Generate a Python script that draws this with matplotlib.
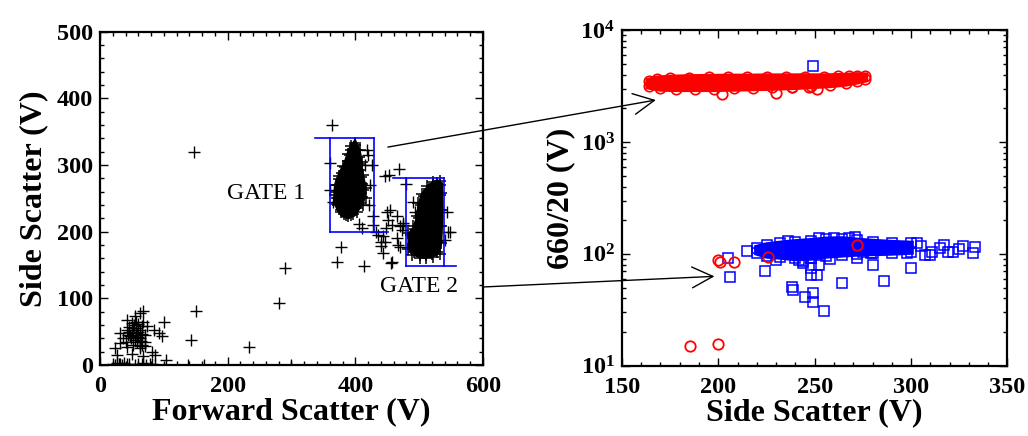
import numpy as np
import matplotlib
matplotlib.use('Agg')
import matplotlib.pyplot as plt
from matplotlib.patches import ConnectionPatch, Polygon
from matplotlib.ticker import MultipleLocator, FixedLocator, LogLocator, NullFormatter

plt.rcParams['font.family'] = ['Liberation Serif', 'DejaVu Serif']
plt.rcParams['mathtext.fontset'] = 'custom'
plt.rcParams['mathtext.rm'] = 'Liberation Serif:bold'
plt.rcParams['mathtext.bf'] = 'Liberation Serif:bold'
plt.rcParams['mathtext.it'] = 'Liberation Serif:bold:italic'

# ---- left panel: forward vs side scatter ----
# dense core of gate 1 population (outline of the solid blob)
G1_CORE_X = [399, 403, 405, 406, 407, 409, 411, 412, 411, 408, 402, 396, 389, 382, 377,
             373, 371, 371, 372, 375, 379, 384, 388, 391, 394]
G1_CORE_Y = [330, 322, 312, 302, 292, 282, 272, 262, 252, 243, 235, 227, 224, 226, 232,
             240, 250, 260, 270, 279, 288, 297, 306, 315, 323]
# fuzzy rim of the gate 1 blob
G1_RIM_X = [400, 407, 410, 412, 416, 417, 412, 403, 394, 386, 377, 371, 368, 369, 374,
            381, 388, 393]
G1_RIM_Y = [333, 323, 304, 285, 266, 251, 240, 230, 225, 225, 230, 241, 255, 270, 284,
            299, 316, 328]
# dense core of gate 2 population
G2_CORE_X = [528, 532, 532, 533, 532, 531, 528, 520, 511, 502, 492, 487, 487, 494, 500,
             503, 507, 515, 522]
G2_CORE_Y = [273, 270, 255, 233, 208, 185, 170, 166, 165, 165, 169, 176, 195, 204, 220,
             240, 254, 264, 270]
G2_RIM_X = [522, 532, 535, 536, 535, 534, 532, 522, 511, 501, 489, 483, 483, 490, 496,
            499, 504, 513]
G2_RIM_Y = [275, 276, 258, 233, 208, 183, 167, 162, 161, 161, 165, 174, 198, 208, 223,
            243, 257, 268]
# individual events
FSC = [364, 147, 290, 280, 150, 143, 234, 413, 372, 378, 360, 360, 365, 418, 420, 426,
       423, 422, 410, 428, 428, 447, 453, 469, 449, 454, 452, 457, 448, 465, 470, 473,
       436, 444, 433, 465, 441, 446, 467, 440, 444, 456, 458, 475, 480, 491, 493, 475,
       470, 543, 546, 540, 548, 405, 415,
       67, 63, 55, 43, 50, 57, 52, 42, 31, 60, 73, 84, 93, 97, 101, 36, 47, 55, 63, 70,
       65, 52, 42, 31, 24, 26, 82, 86, 68, 104, 50, 58, 45, 62,
       48, 52, 56, 60, 62, 66, 58, 64, 70, 54, 60, 66, 50, 44, 40, 70, 62, 56, 68, 46,
       20, 23, 26, 29, 32, 35, 38, 42, 45, 55, 60, 65, 68, 72, 78, 82, 86, 138, 163, 299]
SSC = [360, 319, 145, 93, 81, 38, 27, 149, 155, 177, 303, 263, 245, 323, 315, 300,
       270, 240, 205, 223, 210, 283, 285, 294, 230, 233, 218, 210, 205, 223, 208, 203,
       195, 193, 200, 190, 185, 185, 180, 178, 168, 153, 155, 213, 272, 245, 230, 210,
       177, 230, 200, 188, 200, 212, 300,
       81, 78, 74, 67, 63, 64, 55, 53, 48, 50, 58, 53, 48, 44, 65, 40, 43, 38, 40, 35,
       30, 30, 27, 33, 25, 15, 20, 15, 13, 8, 17, 45, 50, 25,
       40, 45, 48, 42, 52, 46, 35, 36, 45, 60, 62, 58, 50, 45, 35, 28, 28, 55, 65, 57,
       2, 0, 3, 1, 2, 0, 3, 1, 2, 0, 2, 1, 3, 0, 2, 1, 0, 0, 0, 0]

GATE1_X = [[337, 429], [360, 360], [429, 429], [360, 451]]
GATE1_Y = [[340, 340], [340, 200], [340, 200], [200, 200]]
GATE2_X = [[459, 539], [479, 479], [539, 539], [479, 557]]
GATE2_Y = [[280, 280], [280, 149], [280, 149], [149, 149]]

# ---- right panel: side scatter vs 660/20 ----
RED_CORE_X = [164, 168, 175, 185, 195, 205, 215, 225, 235, 245, 255, 262, 268, 272, 276,
              276, 272, 266, 258, 248, 238, 228, 218, 208, 198, 188, 178, 170, 164]
RED_CORE_Y = [3500, 3650, 3720, 3760, 3780, 3800, 3800, 3820, 3820, 3830, 3820, 3850, 3880,
              3920, 3900, 3650, 3500, 3350, 3250, 3180, 3120, 3080, 3050, 3020, 3000, 3000,
              3000, 3020, 3150]
RED_X = [202, 230, 238, 251, 247, 185.5, 200, 199.8, 201, 208, 226, 272]
RED_Y = [2685, 2757, 3076, 2954, 3076, 14.9, 15.7, 88.4, 84.3, 84.3, 94.6, 120]

BLUE_CORE_X = [220, 225, 232, 240, 248, 256, 264, 272, 280, 290, 300,
               300, 290, 280, 272, 264, 256, 248, 240, 232, 225, 220]
BLUE_CORE_Y = [114, 120, 124, 128, 131, 135, 136, 132, 129, 126, 124,
               104, 102, 101, 100, 98, 96, 92, 91, 94, 96, 102]
BLUE_X = [249, 205, 206, 215, 224, 238, 239, 245, 248, 248, 251, 252, 249, 249, 255, 264,
          280, 286, 300, 272, 298, 307, 310, 322, 327, 332, 333, 303, 317, 319, 311, 294,
          288, 280, 271, 279, 275, 242, 244, 248, 230, 315, 325, 305, 236, 252, 260, 268,
          244, 258]
BLUE_Y = [4800, 91.6, 62.7, 107, 70.5, 50.4, 47.1, 41.6, 74.5, 64.9, 64.9, 79.8, 44.6,
          37.5, 31.2, 54.8, 79.8, 57.8, 75.5, 91.6, 101, 98, 98, 103.5, 118.6, 101, 116,
          124.5, 120, 105, 105, 116, 112, 116, 143, 101, 105, 88.4, 82.7, 91.6, 88.4,
          112, 110, 118, 130, 138, 140, 138, 86, 90]

fig = plt.figure(figsize=(10.28, 4.36), dpi=100)
ax1 = fig.add_axes([0.0973, 0.163, 0.3725, 0.764])
ax2 = fig.add_axes([0.605, 0.161, 0.375, 0.770])

blue = '#0000ff'
red = '#ff0000'

# left panel
for cx, cy, rx, ry in [(G1_CORE_X, G1_CORE_Y, G1_RIM_X, G1_RIM_Y),
                       (G2_CORE_X, G2_CORE_Y, G2_RIM_X, G2_RIM_Y)]:
    ax1.add_patch(Polygon(np.column_stack([cx, cy]), closed=True,
                          facecolor='black', edgecolor='black', lw=5, zorder=2))
    ax1.plot(cx, cy, '+', color='black', ms=8, mew=1.1, zorder=3)
    ax1.plot(rx, ry, '+', color='black', ms=8, mew=1.1, zorder=3)
ax1.plot(FSC, SSC, '+', color='black', ms=8, mew=1.0, zorder=3)
for xs, ys in zip(GATE1_X + GATE2_X, GATE1_Y + GATE2_Y):
    ax1.plot(xs, ys, color=blue, lw=1.2, zorder=4)

ax1.text(260, 258, 'GATE 1', fontsize=17, ha='center', va='center')
ax1.text(500, 117, 'GATE 2', fontsize=17, ha='center', va='center')

ax1.set_xlim(0, 600)
ax1.set_ylim(0, 500)
ax1.xaxis.set_major_locator(MultipleLocator(200))
ax1.xaxis.set_minor_locator(MultipleLocator(20))
ax1.yaxis.set_major_locator(MultipleLocator(100))
ax1.yaxis.set_minor_locator(MultipleLocator(20))
ax1.set_xlabel('Forward Scatter (V)', fontsize=23, fontweight='bold', labelpad=0)
ax1.set_ylabel('Side Scatter (V)', fontsize=23, fontweight='bold', labelpad=6)

# right panel
ax2.add_patch(Polygon(np.column_stack([RED_CORE_X, RED_CORE_Y]), closed=True,
                      facecolor=red, edgecolor=red, lw=5, zorder=2))
ax2.plot(RED_CORE_X, RED_CORE_Y, 'o', mfc='none', mec=red, ms=7.5, mew=1.2, zorder=3)
ax2.add_patch(Polygon(np.column_stack([BLUE_CORE_X, BLUE_CORE_Y]), closed=True,
                      facecolor=blue, edgecolor=blue, lw=4, zorder=4))
ax2.plot(BLUE_CORE_X, BLUE_CORE_Y, 's', mfc='none', mec=blue, ms=6.5, mew=1.1, zorder=5)
ax2.plot(BLUE_X, BLUE_Y, 's', mfc='none', mec=blue, ms=6.5, mew=1.1, zorder=5)
ax2.plot(RED_X, RED_Y, 'o', mfc='none', mec=red, ms=7.5, mew=1.3, zorder=6)

ax2.set_yscale('log')
ax2.set_xlim(150, 350)
ax2.set_ylim(10, 10000)
ax2.xaxis.set_major_locator(MultipleLocator(50))
ax2.xaxis.set_minor_locator(MultipleLocator(10))
ax2.yaxis.set_major_locator(FixedLocator([10, 100, 1000, 10000]))
ax2.yaxis.set_minor_locator(LogLocator(base=10, subs=np.arange(2, 10)))
ax2.yaxis.set_minor_formatter(NullFormatter())
ax2.set_yticklabels([r'$\mathregular{10^{1}}$', r'$\mathregular{10^{2}}$',
                     r'$\mathregular{10^{3}}$', r'$\mathregular{10^{4}}$'])
ax2.set_xlabel('Side Scatter (V)', fontsize=23, fontweight='bold', labelpad=0)
ax2.set_ylabel('660/20 (V)', fontsize=23, fontweight='bold', labelpad=4)

for ax in (ax1, ax2):
    for sp in ax.spines.values():
        sp.set_linewidth(1.6)
    ax.tick_params(which='both', direction='in', top=True, right=True, width=1.0)
    ax.tick_params(which='major', length=6, labelsize=17.5)
    ax.tick_params(which='minor', length=3)
    ax.tick_params(axis='x', which='major', pad=8)
    ax.tick_params(axis='y', which='major', pad=5)
    for lab in ax.get_xticklabels() + ax.get_yticklabels():
        lab.set_fontweight('bold')

# arrows from gates to the populations
for xyA, xyB in [((451, 327), (167.6, 2371)), ((600, 117), (198, 63))]:
    con = ConnectionPatch(xyA=xyA, coordsA=ax1.transData, xyB=xyB, coordsB=ax2.transData,
                          arrowstyle='->,head_length=0.6,head_width=0.3', mutation_scale=25,
                          lw=1.0, color='black', shrinkA=0, shrinkB=0)
    fig.add_artist(con)

fig.savefig('out.png', dpi=100)
